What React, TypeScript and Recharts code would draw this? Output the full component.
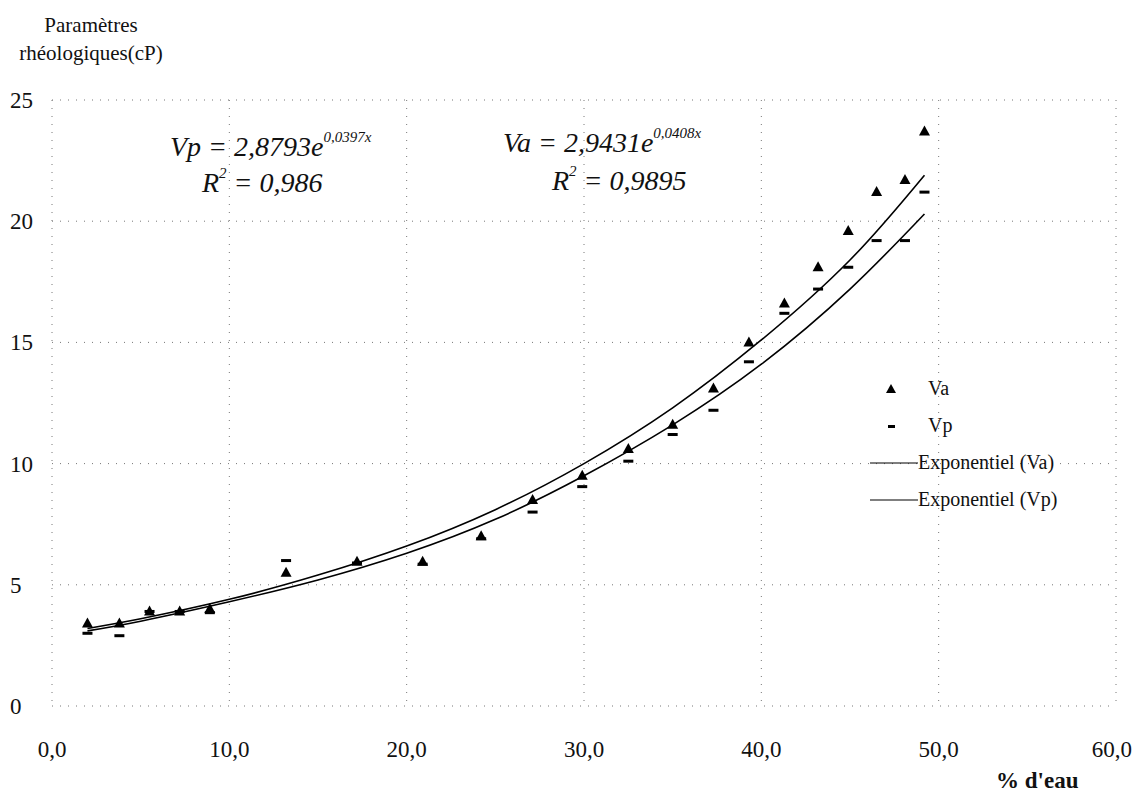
import React from "react";
import {
  ComposedChart,
  Scatter,
  Line,
  XAxis,
  YAxis,
  CartesianGrid,
  Legend,
} from "recharts";

// % d'eau (x) for each measurement
const waterPct = [2.0, 3.8, 5.5, 7.2, 8.9, 13.2, 17.2, 20.9, 24.2, 27.1, 29.9, 32.5, 35.0, 37.3, 39.3, 41.3, 43.2, 44.9, 46.5, 48.1, 49.2];
// viscosité apparente (cP)
const vaValues = [3.4, 3.4, 3.9, 3.9, 4.0, 5.5, 5.95, 5.95, 7.0, 8.5, 9.5, 10.6, 11.6, 13.1, 15.0, 16.6, 18.1, 19.6, 21.2, 21.7, 23.7];
// viscosité plastique (cP)
const vpValues = [3.0, 2.9, 3.9, 3.9, 3.85, 6.0, 5.9, 5.85, 6.9, 8.0, 9.05, 10.1, 11.2, 12.2, 14.2, 16.2, 17.2, 18.1, 19.2, 19.2, 21.2];

// trend curves
const trendX = [2, 5, 10, 15, 20, 25, 30, 35, 40, 45, 49.2];
const trendVa = [3.2, 3.6, 4.4, 5.4, 6.6, 8.1, 10.0, 12.3, 15.1, 18.4, 21.9];
const trendVp = [3.1, 3.5, 4.3, 5.2, 6.3, 7.7, 9.5, 11.6, 14.1, 17.2, 20.3];

const xTicks = [0, 10, 20, 30, 40, 50, 60];
const yTicks = [0, 5, 10, 15, 20, 25];

const vaData = waterPct.map((x, i) => ({ x, y: vaValues[i] }));
const vpData = waterPct.map((x, i) => ({ x, y: vpValues[i] }));
const trendVaData = trendX.map((x, i) => ({ x, y: trendVa[i] }));
const trendVpData = trendX.map((x, i) => ({ x, y: trendVp[i] }));

const FONT = "Liberation Serif, DejaVu Serif, serif";

const Triangle = (props: any) => {
  const { cx, cy } = props;
  return <path d={`M${cx},${cy - 6} L${cx + 5.5},${cy + 4} L${cx - 5.5},${cy + 4} Z`} fill="#000" />;
};

const Dash = (props: any) => {
  const { cx, cy } = props;
  return <rect x={cx - 5} y={cy - 1.5} width={10} height={3} fill="#000" />;
};

const YTick = (props: any) => {
  const { y, payload } = props;
  return (
    <text x={2} y={y} dy="0.35em" fill="#111" fontSize={23} fontFamily={FONT}>
      {payload.value}
    </text>
  );
};

const fmtX = (v: number) => v.toFixed(1).replace(".", ",");

const LegendBox = () => {
  const row: React.CSSProperties = { display: "flex", alignItems: "center", height: 37 };
  return (
    <div style={{ fontFamily: FONT, fontSize: 20, color: "#111" }}>
      <div style={row}>
        <svg width={48} height={14}>
          <path d="M21,2 L26,11 L16,11 Z" fill="#000" />
        </svg>
        <span style={{ marginLeft: 10 }}>Va</span>
      </div>
      <div style={row}>
        <svg width={48} height={14}>
          <rect x={18} y={6} width={7} height={3} fill="#000" />
        </svg>
        <span style={{ marginLeft: 10 }}>Vp</span>
      </div>
      <div style={row}>
        <svg width={48} height={14}>
          <line x1={0} y1={7} x2={48} y2={7} stroke="#000" strokeWidth={1.2} />
        </svg>
        <span>Exponentiel (Va)</span>
      </div>
      <div style={row}>
        <svg width={48} height={14}>
          <line x1={0} y1={7} x2={48} y2={7} stroke="#000" strokeWidth={1.2} />
        </svg>
        <span>Exponentiel (Vp)</span>
      </div>
    </div>
  );
};

const eqStyle: React.CSSProperties = {
  position: "absolute",
  fontFamily: FONT,
  fontStyle: "italic",
  fontSize: 28,
  color: "#111",
  whiteSpace: "nowrap",
  lineHeight: 1,
};
const supStyle: React.CSSProperties = { fontSize: 15, verticalAlign: 0, position: "relative", top: -14 };

export default function App() {
  return (
    <div style={{ position: "relative", width: 1124, height: 786, background: "#fff" }}>
      <ComposedChart width={1124} height={786} margin={{ top: 92, right: 16, bottom: 0, left: 0 }}>
        <CartesianGrid stroke="#777" strokeDasharray="1 7" strokeWidth={1} />
        <XAxis
          type="number"
          dataKey="x"
          domain={[0, 60]}
          ticks={xTicks}
          tickFormatter={fmtX}
          axisLine={false}
          tickLine={false}
          tickMargin={29}
          height={88}
          tick={{ fill: "#111", fontSize: 23, fontFamily: FONT }}
        />
        <YAxis
          type="number"
          domain={[0, 25]}
          ticks={yTicks}
          axisLine={false}
          tickLine={false}
          width={44}
          tick={<YTick />}
        />
        <Legend
          layout="vertical"
          align="center"
          verticalAlign="middle"
          content={<LegendBox />}
          wrapperStyle={{ left: 862, top: 362, width: "auto" }}
        />
        <Line data={trendVaData} dataKey="y" type="natural" stroke="#000" strokeWidth={1.6} dot={false} isAnimationActive={false} legendType="none" />
        <Line data={trendVpData} dataKey="y" type="natural" stroke="#000" strokeWidth={1.6} dot={false} isAnimationActive={false} legendType="none" />
        <Scatter data={vaData} dataKey="y" shape={<Triangle />} isAnimationActive={false} />
        <Scatter data={vpData} dataKey="y" shape={<Dash />} isAnimationActive={false} />
      </ComposedChart>

      <div style={{ position: "absolute", left: 0, top: 3, width: 166, textAlign: "center", fontFamily: FONT, fontSize: 21, lineHeight: "28px", color: "#111" }}>
        Paramètres
        <br />
        rhéologiques(cP)
      </div>

      <div style={{ ...eqStyle, left: 162, top: 125 }}>
        Vp = 2,8793e<span style={supStyle}>0,0397x</span>
      </div>
      <div style={{ ...eqStyle, left: 194, top: 161 }}>
        R<span style={supStyle}>2</span> = 0,986
      </div>
      <div style={{ ...eqStyle, left: 495, top: 121 }}>
        Va = 2,9431e<span style={supStyle}>0,0408x</span>
      </div>
      <div style={{ ...eqStyle, left: 544, top: 159 }}>
        R<span style={supStyle}>2</span> = 0,9895
      </div>

      <div style={{ position: "absolute", left: 988, top: 760, fontFamily: FONT, fontWeight: "bold", fontSize: 23, color: "#111" }}>
        % d'eau
      </div>
    </div>
  );
}
